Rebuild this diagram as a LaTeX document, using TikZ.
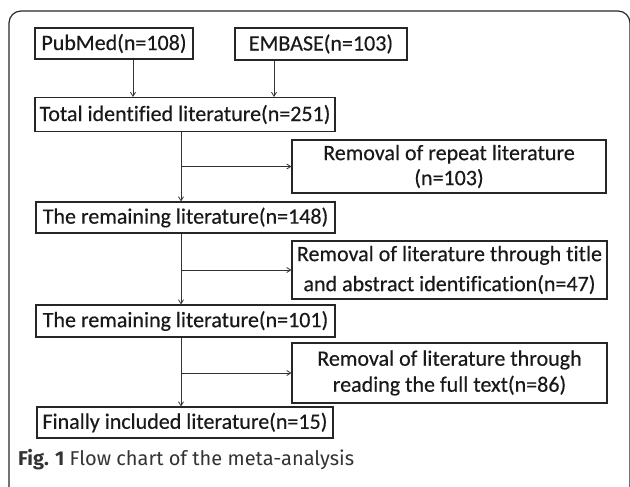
\documentclass[tikz,border=0pt]{standalone}
\usepackage{fontspec}
\setmainfont{Carlito}[Ligatures=NoCommon, FakeBold=0.4]
\newfontfamily\capfont{Fira Sans}
\usetikzlibrary{arrows.meta}
\begin{document}
\begin{tikzpicture}[x=1pt,y=-1pt,
  box/.style={draw=black!85, line width=1.1pt, inner sep=0pt, align=center,
    font=\fontsize{22}{26}\selectfont, text=black!90},
  arr/.style={draw=black!80, line width=0.8pt, -{Straight Barb[length=4pt,width=5pt]}},
  frame/.style={draw=black!85, line width=1.2pt, rounded corners=12pt}]
\useasboundingbox (0,0) rectangle (630,487);
\clip (0,0) rectangle (630,487);
\draw[frame] (9,11) rectangle (630,500);
\node[box, minimum width=158pt, minimum height=31pt] (pub) at (114,43.5) {PubMed(n=108)};
\node[box, minimum width=172pt, minimum height=32pt] (emb) at (321,44) {EMBASE(n=103)};
\node[box, minimum width=300pt, minimum height=34pt] (tot) at (185,114.5) {Total identified literature(n=251)};
\node[box, minimum width=314pt, minimum height=53pt] (r1) at (449,166.5) {Removal of repeat literature\\[-1pt](n=103)};
\node[box, minimum width=299pt, minimum height=31pt] (m1) at (185.5,217.5) {The remaining literature(n=148)};
\node[box, minimum width=315pt, minimum height=58pt] (r2) at (449.5,270) {Removal of literature through title\\[4pt]and abstract identification(n=47)};
\node[box, minimum width=299pt, minimum height=32pt] (m2) at (185.5,321) {The remaining literature(n=101)};
\node[box, minimum width=315pt, minimum height=60pt] (r3) at (449.5,373) {Removal of literature through\\[0pt]reading the full text(n=86)};
\node[box, minimum width=296pt, minimum height=31pt] (fin) at (185,422.5) {Finally included literature(n=15)};
\node[anchor=base west, inner sep=0pt, font=\capfont\fontsize{20}{24}\selectfont, text=black!80] (cap) at (18,465)
  {\textbf{Fig. 1} Flow chart of the meta-analysis};
\coordinate (k) at (181,0);
\coordinate (kp) at (133,0);
\coordinate (ke) at (274,0);
\draw[arr] (pub.south -| kp) -- (tot.north -| kp);
\draw[arr] (emb.south -| ke) -- (tot.north -| ke);
\draw[arr] (tot.south -| k) -- (m1.north -| k);
\draw[arr] (m1.south -| k) -- (m2.north -| k);
\draw[arr] (m2.south -| k) -- (fin.north -| k);
\draw[arr] (r1.west -| k) -- (r1.west);
\draw[arr] (r2.west -| k) -- (r2.west);
\draw[arr] (r3.west -| k) -- (r3.west);
\end{tikzpicture}
\end{document}
